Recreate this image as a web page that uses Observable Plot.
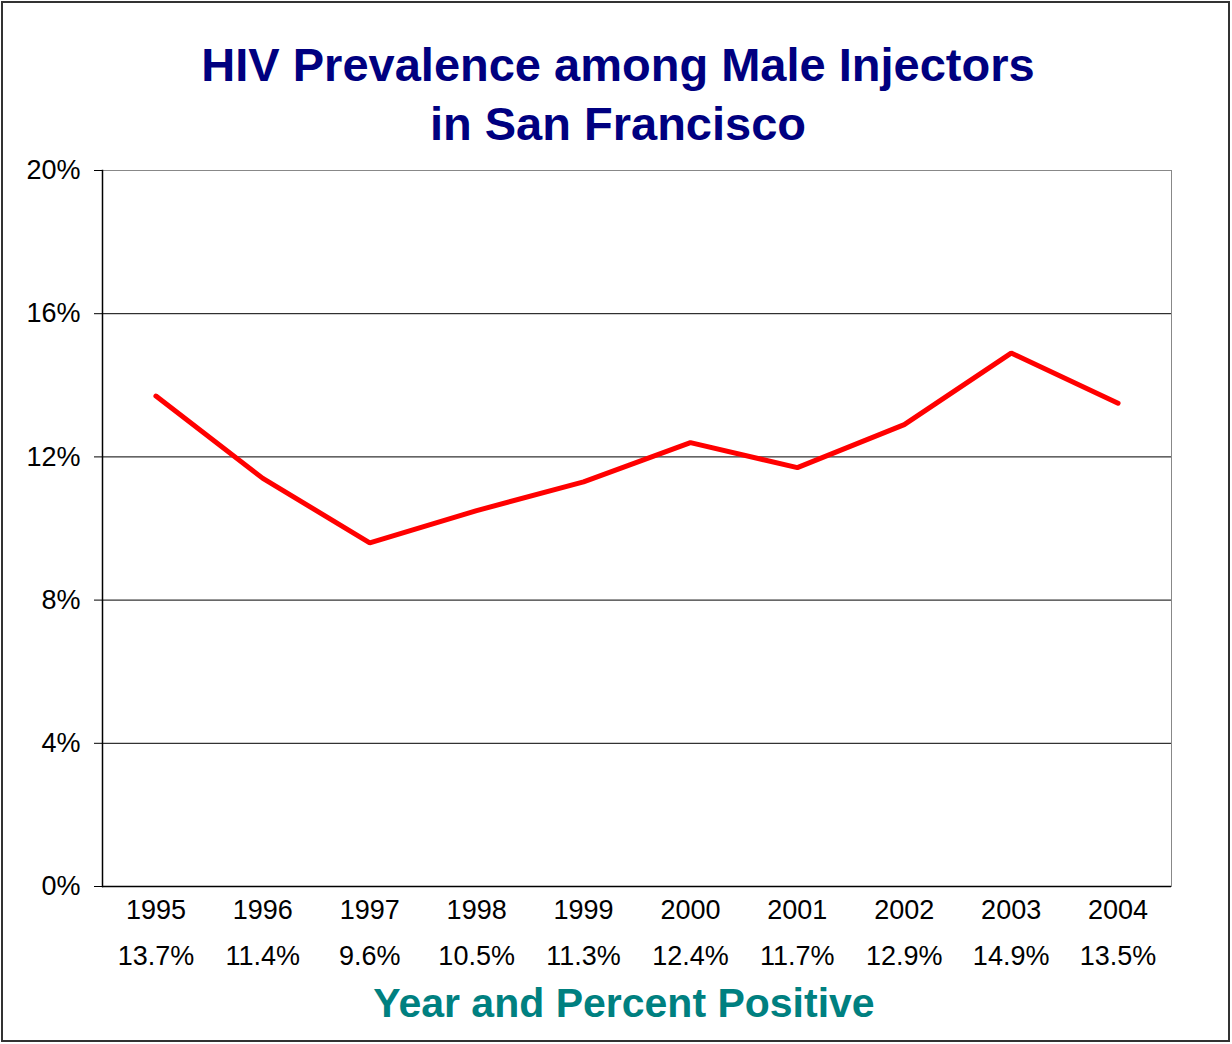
<!DOCTYPE html>
<html>
<head>
<meta charset="utf-8">
<script src="https://cdn.jsdelivr.net/npm/d3@7"></script>
<script src="https://cdn.jsdelivr.net/npm/@observablehq/plot@0.6"></script>
<style>
  html, body { margin: 0; padding: 0; background: #fff; }
  body { width: 1232px; height: 1044px; position: relative; overflow: hidden; font-family: Arial, "Liberation Sans", sans-serif; }
  #frame { position: absolute; left: 1px; top: 1px; width: 1229px; height: 1041px; border: 2px solid #333; box-sizing: border-box; }
  #title { position: absolute; left: 0; top: 35px; width: 1236px; text-align: center; color: #000080; font-weight: bold; font-size: 47px; line-height: 59px; }
  #chart { position: absolute; left: 0; top: 150px; }
  #xlabel { position: absolute; left: 0; top: 979px; width: 1248px; text-align: center; color: #008080; font-weight: bold; font-size: 41px; line-height: 48px; }
</style>
</head>
<body>
<div id="frame"></div>
<div id="title">HIV Prevalence among Male Injectors<br>in San Francisco</div>
<div id="chart"></div>
<div id="xlabel">Year and Percent Positive</div>
<script>
const years = ["1995","1996","1997","1998","1999","2000","2001","2002","2003","2004"];
const prevalence = [13.7, 11.4, 9.6, 10.5, 11.3, 12.4, 11.7, 12.9, 14.9, 13.5];
const percentLabels = ["13.7%","11.4%","9.6%","10.5%","11.3%","12.4%","11.7%","12.9%","14.9%","13.5%"];
const yTicks = [0, 4, 8, 12, 16, 20];

const data = years.map((y, i) => ({year: y, value: prevalence[i]}));
const pctByYear = new Map(years.map((y, i) => [y, percentLabels[i]]));

const chart = Plot.plot({
  width: 1232,
  height: 840,
  marginLeft: 102,
  marginRight: 61,
  marginTop: 20,
  marginBottom: 104,
  style: {fontFamily: 'Arial, "Liberation Sans", sans-serif', fontSize: "27px", color: "#000", background: "transparent", overflow: "visible"},
  x: {type: "point", domain: years, padding: 0.5, round: false},
  y: {domain: [0, 20]},
  marks: [
    Plot.frame({stroke: "#888", strokeWidth: 1}),
    Plot.ruleY(yTicks.filter(d => d > 0 && d < 20), {stroke: "#000", strokeWidth: 1}),
    Plot.ruleY([0], {stroke: "#000", strokeWidth: 1.5}),
    Plot.frame({anchor: "left", stroke: "#000", strokeWidth: 1.5}),
    Plot.axisY({ticks: yTicks, tickFormat: d => d + "%", tickSize: 8, tickPadding: 14, stroke: "#000", fill: "#000", fontSize: 27, label: null}),
    Plot.axisX({tickSize: 0, tickPadding: 13, fill: "#000", fontSize: 27, label: null}),
    Plot.axisX({tickSize: 0, tickPadding: 59, tickFormat: d => pctByYear.get(d), fill: "#000", fontSize: 27, label: null}),
    Plot.line(data, {x: "year", y: "value", stroke: "#ff0000", strokeWidth: 5, strokeLinejoin: "miter"})
  ]
});
document.getElementById("chart").appendChild(chart);
</script>
</body>
</html>
